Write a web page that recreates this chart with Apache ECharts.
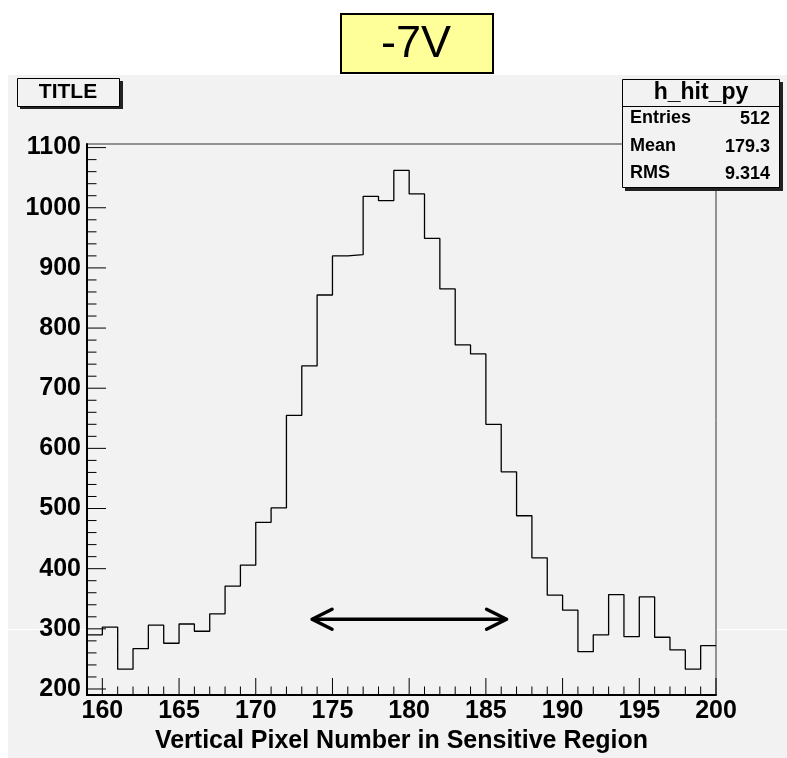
<!DOCTYPE html>
<html>
<head>
<meta charset="utf-8">
<script src="https://cdn.jsdelivr.net/npm/echarts@6/dist/echarts.min.js"></script>
<style>
html,body{margin:0;padding:0;background:#fff;}
#chart{width:787px;height:758px;}
</style>
</head>
<body>
<div id="chart"></div>
<script>
// ---- data ----
const binLowEdges = [159,160,161,162,163,164,165,166,167,168,169,170,171,172,173,174,175,176,177,178,179,180,181,182,183,184,185,186,187,188,189,190,191,192,193,194,195,196,197,198,199];
const binCounts   = [290,303,233,267,306,276,308,296,325,371,406,477,501,655,737,855,920,922,1019,1012,1062,1023,949,865,772,757,640,561,488,418,356,331,262,290,357,287,353,286,265,233,272];
const lastBinUpEdge = 200;
const xTickLabels = [160,165,170,175,180,185,190,195,200];
const yTickLabels = [200,300,400,500,600,700,800,900,1000,1100];
const arrowSpan = [173.67, 186.35];
const arrowLevel = 316;
const statsTitle = 'h_hit_py';
const statsNames = ['Entries','Mean','RMS'];
const statsValues = ['512','179.3','9.314'];
const padTitle = 'TITLE';
const voltageLabel = '-7V';
const xAxisTitle = 'Vertical Pixel Number in Sensitive Region';

const FONT = '"Liberation Sans", Arial, Helvetica, sans-serif';
const xMin = 159, xMax = 200, yMin = 190, yMax = 1106;

// histogram step points
const histData = binLowEdges.map((b, i) => [b, binCounts[i]]);
histData.push([lastBinUpEdge, binCounts[binCounts.length - 1]]);

// tick marks (minor every 1 on x, every 20 on y)
const xTickData = [];
for (let v = 160; v <= 200; v++) xTickData.push([v, yMin, xTickLabels.indexOf(v) >= 0 ? 1 : 0]);
const yTickData = [];
for (let v = 200; v <= 1100; v += 20) yTickData.push([xMin, v, yTickLabels.indexOf(v) >= 0 ? 1 : 0]);

const chart = echarts.init(document.getElementById('chart'), null, {renderer: 'canvas'});

const stats = [];
statsNames.forEach((n, i) => {
  const y = 119.5 + i * 27.5;
  stats.push({type:'text', left:630, top:y - 10, z:102, style:{text:n, font:'bold 18px ' + FONT, fill:'#000'}});
  stats.push({type:'text', z:102, style:{text:statsValues[i], x:770, y:y, align:'right', verticalAlign:'middle', font:'bold 18px ' + FONT, fill:'#000'}});
});

chart.setOption({
  animation: false,
  backgroundColor: '#ffffff',
  grid: {left: 87, right: 71, top: 144, bottom: 63, show: true, borderColor: '#333', borderWidth: 1, backgroundColor: 'transparent', containLabel: false, outerBoundsMode: 'none'},
  xAxis: {
    type: 'value', min: xMin, max: xMax, interval: 1,
    axisLine: {show: true, onZero: false, lineStyle: {color: '#000', width: 2}},
    axisTick: {show: false},
    splitLine: {show: false},
    axisLabel: {margin: 4, color: '#000', fontFamily: FONT, fontWeight: 'bold', fontSize: 25,
      formatter: v => (xTickLabels.indexOf(Math.round(v)) >= 0 && Math.abs(v - Math.round(v)) < 1e-6) ? String(Math.round(v)) : ''},
    name: xAxisTitle, nameLocation: 'middle', nameGap: 31,
    nameTextStyle: {color: '#000', fontFamily: FONT, fontWeight: 'bold', fontSize: 25}
  },
  yAxis: {
    type: 'value', min: yMin, max: yMax, interval: 10,
    axisLine: {show: true, onZero: false, lineStyle: {color: '#000', width: 2}},
    axisTick: {show: false},
    splitLine: {show: false},
    axisLabel: {margin: 6, color: '#000', fontFamily: FONT, fontWeight: 'bold', fontSize: 25,
      formatter: v => (yTickLabels.indexOf(Math.round(v)) >= 0 && Math.abs(v - Math.round(v)) < 1e-6) ? String(Math.round(v)) : ''}
  },
  graphic: [
    {type:'rect', z:-10, silent:true, shape:{x:8, y:75, width:779, height:683}, style:{fill:'#f2f2f2'}},
    {type:'line', z:-9, silent:true, shape:{x1:8, y1:629.5, x2:87, y2:629.5}, style:{stroke:'#ffffff', lineWidth:1}},
    {type:'line', z:-9, silent:true, shape:{x1:717, y1:629.5, x2:787, y2:629.5}, style:{stroke:'#ffffff', lineWidth:1}},
    // -7V box
    {type:'rect', z:100, shape:{x:341, y:14, width:152, height:59}, style:{fill:'#ffff99', stroke:'#000', lineWidth:2}},
    {type:'text', z:101, style:{text:voltageLabel, x:416, y:45, align:'center', verticalAlign:'middle', font:'45px ' + FONT, fill:'#000'}},
    // TITLE box
    {type:'rect', z:100, shape:{x:20, y:81, width:103, height:28}, style:{fill:'#222'}},
    {type:'rect', z:101, shape:{x:17.5, y:78.5, width:102, height:28}, style:{fill:'#f2f2f2', stroke:'#000', lineWidth:1}},
    {type:'text', z:102, style:{text:padTitle, x:68, y:92.5, align:'center', verticalAlign:'middle', font:'bold 21px ' + FONT, fill:'#000'}},
    // stats box
    {type:'rect', z:100, shape:{x:625, y:82, width:158, height:109}, style:{fill:'#222'}},
    {type:'rect', z:101, shape:{x:622.5, y:79.5, width:157, height:108}, style:{fill:'#f2f2f2', stroke:'#000', lineWidth:1}},
    {type:'line', z:102, shape:{x1:622.5, y1:106.5, x2:779.5, y2:106.5}, style:{stroke:'#000', lineWidth:1}},
    {type:'text', z:102, style:{text:statsTitle, x:701, y:93, align:'center', verticalAlign:'middle', font:'bold 23px ' + FONT, fill:'#000'}}
  ].concat(stats),
  series: [
    {
      type: 'line', step: 'end', data: histData, symbol: 'none', z: 5,
      lineStyle: {color: '#000', width: 1.3}
    },
    {
      type: 'custom', z: 6, clip: false,
      encode: {x: 0, y: 1},
      data: xTickData,
      renderItem: (params, api) => {
        const p = api.coord([api.value(0), api.value(1)]);
        const bottom = params.coordSys.y + params.coordSys.height;
        const len = api.value(2) ? 17 : 8.5;
        return {type:'line', shape:{x1:p[0], y1:bottom, x2:p[0], y2:bottom - len}, style:{stroke:'#000', lineWidth:1}};
      }
    },
    {
      type: 'custom', z: 6, clip: false,
      encode: {x: 0, y: 1},
      data: yTickData,
      renderItem: (params, api) => {
        const p = api.coord([api.value(0), api.value(1)]);
        const left = params.coordSys.x;
        const len = api.value(2) ? 19 : 9.5;
        return {type:'line', shape:{x1:left, y1:p[1], x2:left + len, y2:p[1]}, style:{stroke:'#000', lineWidth:1}};
      }
    },
    {
      type: 'custom', z: 7, clip: false,
      encode: {x: [0, 1], y: 2},
      data: [[arrowSpan[0], arrowSpan[1], arrowLevel]],
      renderItem: (params, api) => {
        const a = api.coord([api.value(0), api.value(2)]);
        const b = api.coord([api.value(1), api.value(2)]);
        const st = {stroke:'#000', lineWidth:3.5, fill:null, lineCap:'round', lineJoin:'round'};
        return {type:'group', children:[
          {type:'line', shape:{x1:a[0] + 1, y1:a[1], x2:b[0] - 1, y2:b[1]}, style:st},
          {type:'polyline', shape:{points:[[a[0] + 20, a[1] - 10], [a[0], a[1]], [a[0] + 20, a[1] + 10]]}, style:st},
          {type:'polyline', shape:{points:[[b[0] - 20, b[1] - 10], [b[0], b[1]], [b[0] - 20, b[1] + 10]]}, style:st}
        ]};
      }
    }
  ]
});
</script>
</body>
</html>
